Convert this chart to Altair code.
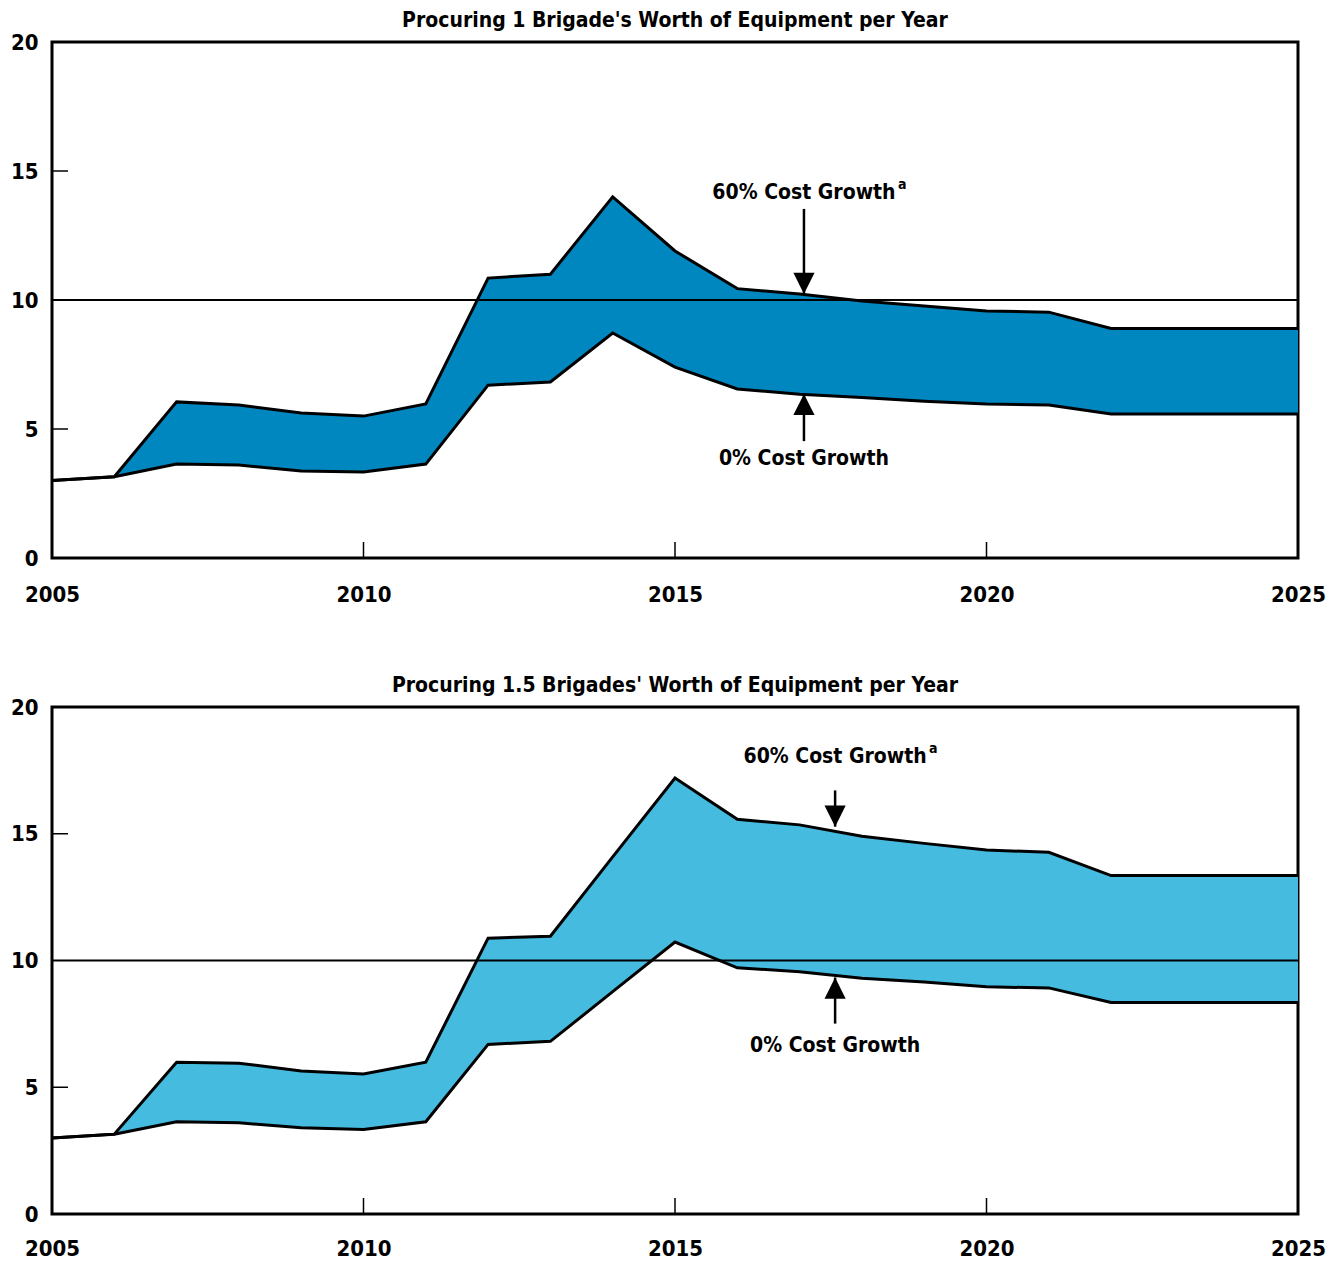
import altair as alt
import pandas as pd

FONT = "Liberation Sans Narrow, DejaVu Sans Condensed, Arial Narrow, sans-serif"

years = list(range(2005, 2026))
top_low = [3.0, 3.15, 3.64, 3.6, 3.37, 3.33, 3.64, 6.7, 6.82, 8.72, 7.4, 6.55, 6.35, 6.22, 6.08, 5.97, 5.93, 5.58, 5.58, 5.58, 5.58]
top_high = [3.0, 3.15, 6.05, 5.93, 5.62, 5.5, 5.97, 10.85, 11.0, 14.0, 11.9, 10.44, 10.23, 9.96, 9.77, 9.57, 9.53, 8.9, 8.9, 8.9, 8.9]
bot_low = [3.0, 3.15, 3.64, 3.6, 3.4, 3.33, 3.64, 6.69, 6.81, 8.77, 10.73, 9.71, 9.56, 9.3, 9.15, 8.96, 8.92, 8.34, 8.34, 8.34, 8.34]
bot_high = [3.0, 3.15, 5.99, 5.95, 5.64, 5.52, 5.99, 10.88, 10.96, 14.09, 17.2, 15.57, 15.35, 14.9, 14.62, 14.36, 14.27, 13.35, 13.35, 13.35, 13.35]

titles = ["Procuring 1 Brigade's Worth of Equipment per Year",
          "Procuring 1.5 Brigades' Worth of Equipment per Year"]
fills = ["#0087C0", "#45BBE0"]
x_tick_values = [2005, 2010, 2015, 2020, 2025]
y_tick_values = [0, 5, 10, 15, 20]
inner_x_ticks = [2010, 2015, 2020]
inner_y_ticks = [5, 15]
reference_level = 10

# annotation placement (data units)
ann_top = dict(x=2017.07, t60=14.15, a60a=13.53, a60b=10.23, t0=3.84, a0a=4.53, a0b=6.36)
ann_bot = dict(x=2017.57, t60=18.04, a60a=16.71, a60b=15.28, t0=6.61, a0a=7.51, a0b=9.33)

W = 1246
heights = [516, 507]
xlabel_pad = [26, 24]


def panel(title, low, high, fill, ann, H, lpad):
    df = pd.DataFrame({"year": years, "low": low, "high": high})
    xs = alt.Scale(domain=[2005, 2025], nice=False, zero=False)
    ys = alt.Scale(domain=[0, 20], nice=False)
    xax = alt.Axis(values=x_tick_values, format="d", title=None, grid=False, ticks=False, domain=False,
                   labelFont=FONT, labelFontSize=22, labelFontWeight="bold", labelColor="black",
                   labelPadding=lpad, labelOverlap=False, labelFlush=False)
    yax = alt.Axis(values=y_tick_values, title=None, grid=False, ticks=False, domain=False,
                   labelFont=FONT, labelFontSize=22, labelFontWeight="bold", labelColor="black",
                   labelPadding=14, labelOverlap=False, labelFlush=False)
    base = alt.Chart(df)
    area = base.mark_area(color=fill, opacity=1).encode(
        x=alt.X("year:Q", scale=xs, axis=xax),
        y=alt.Y("low:Q", scale=ys, axis=yax),
        y2="high:Q",
    )
    rule = alt.Chart(pd.DataFrame({"v": [reference_level]})).mark_rule(color="black", strokeWidth=2).encode(
        y=alt.Y("v:Q", scale=ys))
    l1 = base.mark_line(color="black", strokeWidth=3, strokeJoin="miter").encode(
        x=alt.X("year:Q", scale=xs), y=alt.Y("low:Q", scale=ys))
    l2 = base.mark_line(color="black", strokeWidth=3, strokeJoin="miter").encode(
        x=alt.X("year:Q", scale=xs), y=alt.Y("high:Q", scale=ys))
    xt = alt.Chart(pd.DataFrame({"t": inner_x_ticks})).mark_rule(color="black", strokeWidth=1.5).encode(
        x=alt.X("t:Q", scale=xs), y=alt.value(H), y2=alt.value(H - 16))
    yt = alt.Chart(pd.DataFrame({"t": inner_y_ticks})).mark_rule(color="black", strokeWidth=1.5).encode(
        y=alt.Y("t:Q", scale=ys), x=alt.value(0), x2=alt.value(16))

    ad = pd.DataFrame({
        "x": [ann["x"], ann["x"]],
        "ya": [ann["a60a"], ann["a0a"]],
        "yb": [ann["a60b"], ann["a0b"]],
        "shape": ["M0,0L-0.5,-1L0.5,-1Z", "M0,0L-0.5,1L0.5,1Z"],
    })
    arrows = alt.Chart(ad).mark_rule(color="black", strokeWidth=2.5).encode(
        x=alt.X("x:Q", scale=xs), y=alt.Y("ya:Q", scale=ys), y2="yb:Q")
    heads = alt.Chart(ad).mark_point(filled=True, color="black", opacity=1, size=1800).encode(
        x=alt.X("x:Q", scale=xs), y=alt.Y("yb:Q", scale=ys),
        shape=alt.Shape("shape:N", scale=None))
    td = pd.DataFrame({"x": [ann["x"], ann["x"]], "y": [ann["t60"], ann["t0"]],
                       "label": ["60% Cost Growth", "0% Cost Growth"]})
    texts = alt.Chart(td).mark_text(font=FONT, fontSize=21, fontWeight="bold", color="black",
                                    align="center", baseline="middle").encode(
        x=alt.X("x:Q", scale=xs), y=alt.Y("y:Q", scale=ys), text="label:N")
    sup = alt.Chart(pd.DataFrame({"x": [ann["x"]], "y": [ann["t60"]], "s": ["a"]})).mark_text(
        font=FONT, fontSize=14, fontWeight="bold", color="black", align="left", baseline="middle",
        dx=94, dy=-8).encode(x=alt.X("x:Q", scale=xs), y=alt.Y("y:Q", scale=ys), text="s:N")

    return alt.layer(area, rule, l1, l2, xt, yt, arrows, heads, texts, sup).properties(
        width=W, height=H,
        title=alt.TitleParams(title, font=FONT, fontSize=21, fontWeight="bold", color="black",
                              offset=0, anchor="middle"))


top = panel(titles[0], top_low, top_high, fills[0], ann_top, heights[0], xlabel_pad[0])
bot = panel(titles[1], bot_low, bot_high, fills[1], ann_bot, heights[1], xlabel_pad[1])

chart = alt.vconcat(top, bot, spacing=66).properties(
    padding=0, background="white"
).configure_view(stroke="black", strokeWidth=3)

chart.save("out.html", embed_options={"renderer": "svg", "actions": False})
